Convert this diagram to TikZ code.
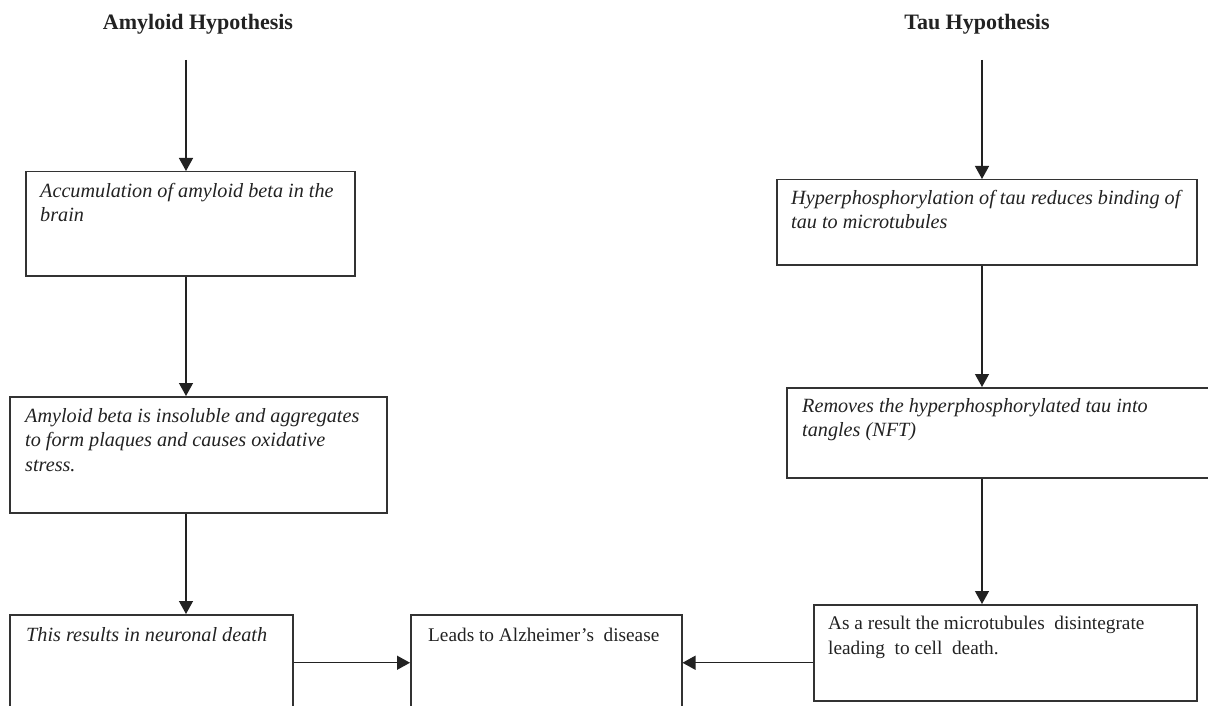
\documentclass[tikz,border=0pt]{standalone}
\usepackage{fontspec}
\setmainfont{Liberation Serif}
\usetikzlibrary{arrows.meta}
\definecolor{ink}{HTML}{222222}
\definecolor{edge}{HTML}{333333}
\begin{document}
\begin{tikzpicture}[x=1pt,y=-1pt,
  box/.style={draw=edge, line width=1.5pt, anchor=north west, inner sep=0pt},
  itxt/.style={anchor=north west, inner sep=0pt, align=left, text=ink,
    font={\fontsize{20.2}{24.5}\selectfont\itshape}},
  rtxt/.style={anchor=north west, inner sep=0pt, align=left, text=ink,
    font={\fontsize{19.3}{25}\selectfont}},
  ttl/.style={anchor=base, inner sep=0pt, text=ink,
    font={\fontsize{22}{26}\selectfont\bfseries}},
  arr/.style={-{Triangle[length=13pt,width=14pt]}, line width=1.3pt, draw=ink}]
\useasboundingbox (0,0) rectangle (1208,706);
\clip (0,0) rectangle (1208,706);
\fill[white] (0,0) rectangle (1208,706);

% titles
\node[ttl] (atitle) at (198,30) {Amyloid Hypothesis};
\node[ttl] (ttitle) at (977,30) {Tau Hypothesis};
\coordinate (astart) at (186,60);
\coordinate (tstart) at (982,60);

% amyloid column
\node[box, minimum width=329pt, minimum height=104pt] (a1) at (25,171) {};
\node[itxt] (a1t) at (40,182) {\rule{0pt}{15pt}Accumulation of amyloid beta in the\\brain};
\node[box, minimum width=377pt, minimum height=116pt] (a2) at (9,396) {};
\node[itxt] (a2t) at (25,407) {\rule{0pt}{15pt}Amyloid beta is insoluble and aggregates\\to form plaques and causes oxidative\\stress.};
\node[box, minimum width=283pt, minimum height=96pt] (a3) at (9,614) {};
\node[itxt] (a3t) at (26,626) {\rule{0pt}{15pt}This results in neuronal death};

% centre
\node[box, minimum width=271pt, minimum height=96pt] (l) at (410,614) {};
\node[rtxt] (lt) at (428,626) {\rule{0pt}{15pt}Leads to Alzheimer’s\ \ disease};

% tau column
\node[box, minimum width=420pt, minimum height=85pt] (t1) at (776,179) {};
\node[itxt] (t1t) at (791,189) {\rule{0pt}{15pt}Hyperphosphorylation of tau reduces binding of\\tau to microtubules};
\node[box, minimum width=440pt, minimum height=90pt] (t2) at (786,387) {};
\node[itxt] (t2t) at (802,397) {\rule{0pt}{15pt}Removes the hyperphosphorylated tau into\\tangles (NFT)};
\node[box, minimum width=383pt, minimum height=96pt] (t3) at (813,604) {};
\node[rtxt] (t3t) at (828,614) {\rule{0pt}{15pt}As a result the microtubules\ \ disintegrate\\leading\ \ to cell\ \ death.};

% connectors
\draw[arr] (astart) -- (astart |- a1.north);
\draw[arr] (astart |- a1.south) -- (astart |- a2.north);
\draw[arr] (astart |- a2.south) -- (astart |- a3.north);
\draw[arr] (a3.east) -- (l.west);

\draw[arr] (tstart) -- (tstart |- t1.north);
\draw[arr] (tstart |- t1.south) -- (tstart |- t2.north);
\draw[arr] (tstart |- t2.south) -- (tstart |- t3.north);
\draw[arr] (t3.west |- l.east) -- (l.east);
\end{tikzpicture}
\end{document}
